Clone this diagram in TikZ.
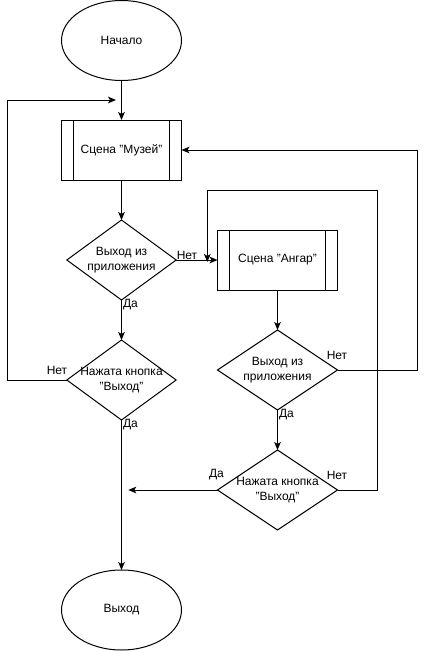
\documentclass[tikz,border=0pt]{standalone}
\usepackage{fontspec}
\setmainfont{Liberation Sans}
\usetikzlibrary{shapes.geometric,arrows.meta}
\begin{document}
\begin{tikzpicture}[x=0.75pt,y=-0.75pt,>={Stealth[length=6pt,width=5pt,inset=1.5pt]},line width=0.75pt,font=\fontsize{9}{11}\selectfont,
 term/.style={ellipse,draw,minimum width=90pt,minimum height=60pt,inner sep=0pt,outer sep=0pt},
 proc/.style={draw,minimum width=90pt,minimum height=45pt,outer sep=0pt,
  path picture={\draw ([xshift=9pt]path picture bounding box.north west)--([xshift=9pt]path picture bounding box.south west);
   \draw ([xshift=-9pt]path picture bounding box.north east)--([xshift=-9pt]path picture bounding box.south east);}},
 dec/.style={diamond,draw,minimum width=#1,minimum height=60pt,inner sep=0pt,outer sep=0pt},
 dec/.default=90pt,
 lab/.style={inner sep=0pt}]
 \useasboundingbox (0,0) rectangle (426,651);
 \def\dtxt#1{\makebox[0pt]{\begin{tabular}{@{}c@{}}#1\end{tabular}}}
 % левая ветка
 \node[term] (beg) at (121.5,40.5) {Начало};
 \node[proc] (mus) at (121.5,150) {Сцена "Музей"};
 \node[dec=82pt] (q1) at (121.5,260) {\dtxt{Выход из\\приложения}};
 \node[dec=82pt] (q2) at (121.5,380) {\dtxt{Нажата кнопка\\"Выход"}};
 \node[term] (fin) at (121.5,610) {Выход};
 % правая ветка
 \node[proc] (ang) at (277.5,260) {Сцена "Ангар"};
 \node[dec] (q3) at (277.5,370) {\dtxt{Выход из\\приложения}};
 \node[dec] (q4) at (277.5,490) {\dtxt{Нажата кнопка\\"Выход"}};
 \coordinate (lin) at (116,100);
 \coordinate (top2) at (377.7,190);
 \coordinate (ain) at (207.3,262);
 \coordinate (yin) at (128.3,490);
 \draw[->] (beg)--(mus);
 \draw[->] (mus)--(q1);
 \draw[->] (q1)--(ang);
 \draw[->] (q1)--(q2);
 \draw[->] (q2)--(fin);
 \draw[->] (q2.west)--++(-59.2,0)|-(lin);
 \draw[->] (ang)--(q3);
 \draw[->] (q3)--(q4);
 \draw[->] (q3.east)--++(80,0)|-(mus.east);
 \draw[->] (q4.east)-|(top2)-|(ain);
 \draw[->] (q4.west)--(yin);
 \foreach \t/\x/\y [count=\i] in {Нет/187/255,Да/130.5/305,Нет/57/370,Да/130.5/425,Нет/337/355,Да/286.5/415,Да/216.5/475,Нет/337/475}
  \node[lab] (lab\i) at (\x,\y) {\t};
\end{tikzpicture}
\end{document}
